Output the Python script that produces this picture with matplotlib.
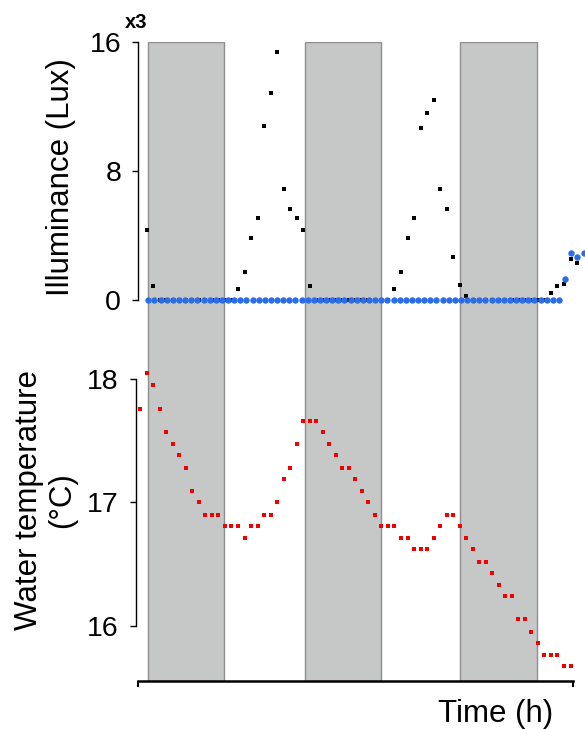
import numpy as np
import matplotlib
matplotlib.use("Agg")
from matplotlib import pyplot as plt

plt.rcParams['font.family'] = ['Liberation Sans', 'DejaVu Sans']

# hourly illuminance (x1000 lux), hours 0..66
lux_hours = np.arange(0, 67)
lux = [4.34, 0.87] + [0]*12 + \
      [0.66, 1.72, 3.82, 5.10, 10.76, 12.80, 15.36, 6.90, 5.62, 5.10, 4.34, 0.87] + [0]*12 + \
      [0.66, 1.72, 3.82, 5.10, 10.65, 11.60, 12.37, 6.90, 5.62, 2.66, 0.93, 0.27] + [0]*12 + \
      [0.41, 0.85, 1.01, 2.54, 2.29]

# second light logger (blue), sampled a bit faster
blue_start, blue_step = 0.25, 0.94
blue_vals = [0]*68 + [1.32, 2.89, 2.64, 2.89]
blue_hours = blue_start + blue_step*np.arange(len(blue_vals))

# water temperature, hours -1..65
temp_hours = np.arange(-1, 66)
temp = [17.76, 18.05, 17.95, 17.76, 17.57, 17.47, 17.38, 17.28, 17.09, 17.00,
        16.90, 16.90, 16.90, 16.81, 16.81, 16.81, 16.71, 16.81, 16.81, 16.90,
        16.90, 17.00, 17.19, 17.28, 17.47, 17.66, 17.66, 17.66, 17.57, 17.47,
        17.38, 17.28, 17.28, 17.19, 17.09, 17.00, 16.90, 16.81, 16.81, 16.81,
        16.71, 16.71, 16.62, 16.62, 16.62, 16.71, 16.81, 16.90, 16.90, 16.81,
        16.71, 16.62, 16.52, 16.52, 16.43, 16.33, 16.24, 16.24, 16.05, 16.05,
        15.95, 15.86, 15.76, 15.76, 15.76, 15.67, 15.67]

# dark periods (h)
dark = [(0.25, 11.9), (24.3, 36.0), (48.1, 59.8)]

W, H = 585, 729
fig = plt.figure(figsize=(W/100, H/100), dpi=100)

def box(left, top, right, bottom):
    return [left/W, 1-bottom/H, (right-left)/W, (bottom-top)/H]

xlim = (-1.29, 67.22)

bg = fig.add_axes(box(138.3, 41.7, 585, 680.5))
bg.set_xlim(xlim)
bg.set_ylim(0, 1)
for a, b in dark:
    bg.axvspan(a, b, facecolor='#c6c8c8', edgecolor='#8e8e8e', lw=1.0)
bg.axis('off')

ax1 = fig.add_axes(box(138.3, 41.7, 585, 335))
ax2 = fig.add_axes(box(138.3, 335, 585, 680.5))
for ax in (ax1, ax2):
    ax.patch.set_alpha(0)
    ax.set_xlim(xlim)
    for s in ('top', 'right'):
        ax.spines[s].set_visible(False)
    ax.tick_params(axis='y', length=4.3, width=1.0, pad=8, labelsize=20.5)
    ax.spines['left'].set_linewidth(1.0)

ax1.plot(lux_hours, lux, 's', color='black', ms=2.6, mew=0, clip_on=False, zorder=3)
ax1.plot(blue_hours, blue_vals, 'o', color='#2b6de6', ms=4.6, mew=0, clip_on=False, zorder=4)
ax1.set_ylim(-2.168, 16)
ax1.set_yticks([0, 8, 16])
ax1.spines['left'].set_bounds(0, 16)
ax1.spines['bottom'].set_visible(False)
ax1.set_xticks([])

ax2.plot(temp_hours, temp, 's', color='#f20000', ms=2.9, mew=0, clip_on=False, zorder=3)
ax2.set_ylim(15.555, 18.357)
ax2.set_yticks([16, 17, 18])
ax2.spines['left'].set_bounds(16, 18)
ax2.spines['left'].set_position(('outward', 1.8))
ax2.spines['bottom'].set_bounds(-1.29, 65.38)
ax2.spines['bottom'].set_linewidth(1.8)
ax2.set_xticks([-1.29, 65.38])
ax2.set_xticklabels([])
ax2.tick_params(axis='x', length=4.3, width=1.5)

fig.text(61/W, 1-177/H, 'Illuminance (Lux)', rotation=90, fontsize=22.5,
         ha='center', va='center')
fig.text(45.5/W, 1-500/H, 'Water temperature\n(°C)', rotation=90, fontsize=22.5,
         ha='center', va='center', multialignment='center', linespacing=1.1)
fig.text(496/W, 1-714/H, 'Time (h)', fontsize=22.5, ha='center', va='center')
fig.text(125/W, 1-28/H, 'x3', fontsize=14.5, fontweight='bold', va='baseline')

fig.savefig('out.png', dpi=100)
